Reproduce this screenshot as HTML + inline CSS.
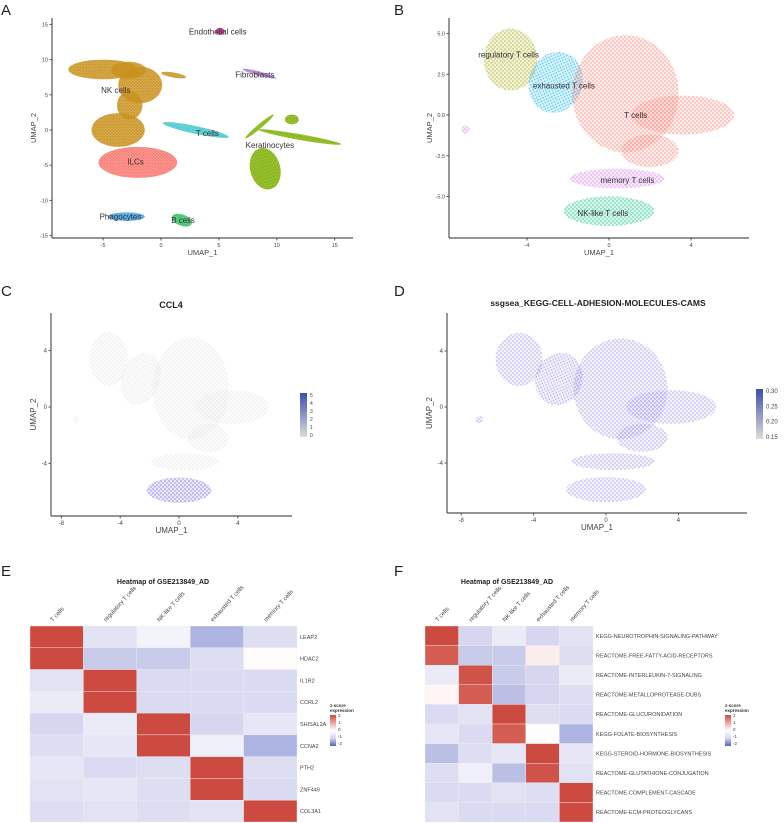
<!DOCTYPE html>
<html><head><meta charset="utf-8"><style>
html,body{margin:0;padding:0;background:#fff}
svg{display:block;font-family:"Liberation Sans",sans-serif}
</style></head><body>
<svg id="fig" width="784" height="823" viewBox="0 0 784 823">
<defs id="defs"></defs>
<g id="root"></g>
</svg>
<script>
// ---- Panel A data (UMAP units) ----
const aClusters = ["NK cells","NK cells","NK cells","NK cells","NK cells","NK cells","ILCs","T cells","Keratinocytes","Keratinocytes","Keratinocytes","Keratinocytes","Endothelial cells","Fibroblasts","Phagocytes","B cells"];
const aCx = [-5,-1.8,-3.7,-2.7,1.1,-2.8,-2,3,9,12,11.3,8.5,5.1,8.5,-3,1.8];
const aCy = [8.6,6.4,0,3.5,7.8,8.5,-4.6,0,-5.5,-1,1.5,0.5,14,8,-12.3,-12.8];
const aRx = [3,1.9,2.3,1.1,1.1,1.5,3.4,2.9,1.3,3.6,0.6,1.6,0.4,1.5,1.6,0.9];
const aRy = [1.4,2.6,2.4,2,0.35,1.2,2.2,0.55,3,0.4,0.7,0.3,0.5,0.3,0.6,0.8];
const aRot = [0,0,0,0,-10,0,0,-12,15,-10,0,40,0,-15,0,-20];
const aColors = ["#c8901a","#c8901a","#c8901a","#c8901a","#c8901a","#c8901a","#f8766d","#3fc6cc","#7cae00","#7cae00","#7cae00","#7cae00","#c21b7c","#b47ad8","#3f9ee0","#2fbf62"];
const aLabels = ["Endothelial cells","Fibroblasts","NK cells","T cells","Keratinocytes","ILCs","Phagocytes","B cells"];
const aLabX = [4.9,8.1,-3.9,4,9.4,-2.2,-3.5,1.9];
const aLabY = [14,7.9,5.7,-0.4,-2.1,-4.5,-12.3,-12.8];
const aXTicks = [-5,0,5,10,15];
const aYTicks = [15,10,5,0,-5,-10,-15];
// ---- Panel B/C/D data ----
const bClusters = ["regulatory","exhausted","T","T","T","memory","NK-like","other"];
const bCx = [-4.8,-2.6,0.8,3.6,2,0.4,0,-7];
const bCy = [3.4,2,1.3,0,-2.2,-3.9,-5.9,-0.9];
const bRx = [1.3,1.3,2.6,2.5,1.4,2.3,2.2,0.2];
const bRy = [1.9,1.9,3.6,1.2,1,0.6,0.9,0.25];
const bRot = [0,-20,0,0,0,0,0,0];
const bColors = ["#a3a500","#00b0f6","#f8766d","#f8766d","#f8766d","#d56ff0","#00bf7d","#e76bf3"];
const bLabels = ["regulatory T cells","exhausted T cells","T cells","memory T cells","NK-like T cells"];
const bLabX = [-4.9,-2.2,1.3,0.9,-0.3];
const bLabY = [3.7,1.8,0,-4,-6];
const bXTicks = [-4,0,4];
const bYTicks = [5,2.5,0,-2.5,-5];
const cdXTicks = [-8,-4,0,4];
const cdYTicks = [4,0,-4];
const cExpr = [0,0,0,0,0,0,1,0];   // CCL4 high only in NK-like
const ccl4Ticks = [5,4,3,2,1,0];
const camsTicks = ["0.30","0.25","0.20","0.15"];
// ---- Heatmap data ----
const hmCols = ["T cells","regulatory T cells","NK-like T cells","exhausted T cells","memory T cells"];
const eRows = ["LEAP2","HDAC2","IL1R2","CCRL2","SHISAL2A","CCNA2","PTH2","ZNF449","COL3A1"];
const eVals = [
 [2,-0.7,-0.3,-1.3,-0.8],[2,-1.1,-1.1,-0.8,0.05],[-0.7,2,-0.9,-0.9,-0.9],[-0.5,2,-0.9,-0.9,-0.9],
 [-1,-0.5,2,-1,-0.6],[-0.8,-0.6,2,-0.4,-1.3],[-0.6,-0.9,-0.8,2,-0.8],[-0.7,-0.6,-0.8,2,-0.9],[-0.8,-0.7,-0.8,-0.7,2]];
const fRows = ["KEGG-NEUROTROPHIN-SIGNALING-PATHWAY","REACTOME-FREE-FATTY-ACID-RECEPTORS","REACTOME-INTERLEUKIN-7-SIGNALING","REACTOME-METALLOPROTEASE-DUBS","REACTOME-GLUCURONIDATION","KEGG-FOLATE-BIOSYNTHESIS","KEGG-STEROID-HORMONE-BIOSYNTHESIS","REACTOME-GLUTATHIONE-CONJUGATION","REACTOME-COMPLEMENT-CASCADE","REACTOME-ECM-PROTEOGLYCANS"];
const fVals = [
 [2,-1,-0.5,-1,-0.7],[1.8,-1.1,-1.1,0.2,-0.8],[-0.5,1.9,-1.1,-1,-0.5],[0.1,1.8,-1.2,-1,-0.8],[-0.9,-0.7,2,-0.8,-0.9],
 [-0.6,-0.9,1.8,-0.05,-1.3],[-1.2,-0.8,-0.6,2,-0.6],[-0.8,-0.4,-1.2,1.9,-0.7],[-0.9,-0.9,-0.7,-0.8,2],[-0.7,-0.9,-0.9,-0.9,2]];
const zTicks = [2,1,0,-1,-2];

const NS="http://www.w3.org/2000/svg";
const root=document.getElementById('root'), defs=document.getElementById('defs');
function el(tag,attrs,parent){const e=document.createElementNS(NS,tag);for(const k in attrs)e.setAttribute(k,attrs[k]);(parent||root).appendChild(e);return e;}
function txt(s,attrs,parent){const e=el('text',attrs,parent);e.textContent=s;return e;}
let patN=0;
function dotPattern(color,op,dense,bg){
  const id='p'+(patN++);const p=el('pattern',{id:id,width:dense?3:4,height:dense?3:4,patternUnits:'userSpaceOnUse'},defs);
  el('rect',{width:4,height:4,fill:color,opacity:op*(bg==null?0.35:bg)},p);
  el('circle',{cx:1,cy:1,r:0.8,fill:color,opacity:op},p);
  el('circle',{cx:dense?2.4:3,cy:dense?2.2:3,r:0.7,fill:color,opacity:op},p);
  return 'url(#'+id+')';
}
function letter(s,x,y){const t=txt(s,{x:x,y:y,'font-size':15,fill:'#222'});}
function axes(g,P,xt,yt,xlab,ylab,fmt){
  const xl=el('line',{x1:P.ax,y1:P.ay,x2:P.axEnd,y2:P.ay,stroke:'#555','stroke-width':1.2},g);
  
  const yl=el('line',{x1:P.ax,y1:P.ay,x2:P.ax,y2:P.ayTop,stroke:'#555','stroke-width':1.2},g);
  
  xt.forEach(v=>{const x=P.sx(v);el('line',{x1:x,y1:P.ay,x2:x,y2:P.ay+2.5,stroke:'#555'},g);
    const t=txt(String(v),{x:x,y:P.ay+9,'font-size':P.fs,'text-anchor':'middle',fill:'#444'},g);
    });
  yt.forEach(v=>{const y=P.sy(v);el('line',{x1:P.ax-2.5,y1:y,x2:P.ax,y2:y,stroke:'#555'},g);
    const t=txt(fmt?fmt(v):String(v),{x:P.ax-4,y:y+2,'font-size':P.fs,'text-anchor':'end',fill:'#444'},g);
    });
  const xt2=txt(xlab,{x:(P.ax+P.axEnd)/2,y:P.ay+17,'font-size':P.fs+2,'text-anchor':'middle',fill:'#444'},g);
  
  const yy=(P.ay+P.ayTop)/2;
  const yt2=txt(ylab,{x:P.ytx,y:yy,'font-size':P.fs+2,'text-anchor':'middle',fill:'#444',transform:'rotate(-90 '+P.ytx+' '+yy+')'},g);
  
}
function blobs(g,P,cx,cy,rx,ry,rot,fills,names){
  for(let i=0;i<cx.length;i++){
    const x=P.sx(cx[i]),y=P.sy(cy[i]);
    const e=el('ellipse',{cx:x,cy:y,rx:rx[i]*P.kx,ry:ry[i]*P.ky,fill:fills[i],transform:'rotate('+(-rot[i])+' '+x+' '+y+')'},g);
    
    
  }
}
function mk(x0,kx,y0,ky,o){return Object.assign({kx:kx,ky:ky,sx:v=>x0+v*kx,sy:v=>y0-v*ky},o);}

// Panel A
letter('A',1,15);
const gA=el('g',{});
const PA=mk(161,11.58,130,7.04,{ax:52,ay:238,axEnd:353,ayTop:18,fs:5.5,ytx:36});
blobs(gA,PA,aCx,aCy,aRx,aRy,aRot,aColors.map(c=>dotPattern(c,1,true,0.75)),aClusters);
aLabels.forEach((s,i)=>{const t=txt(s,{x:PA.sx(aLabX[i]),y:PA.sy(aLabY[i])+3,'font-size':8,'text-anchor':'middle',fill:'#333'},gA);
  });
axes(gA,PA,aXTicks,aYTicks,'UMAP_1','UMAP_2');

// Panel B
letter('B',394,15);
const gB=el('g',{});
const PB=mk(609,20.5,115,16.3,{ax:449,ay:238,axEnd:749,ayTop:18,fs:5.5,ytx:432});
blobs(gB,PB,bCx,bCy,bRx,bRy,bRot,bColors.map(c=>dotPattern(c,0.7,false,0.2)),bClusters);
bLabels.forEach((s,i)=>{const t=txt(s,{x:PB.sx(bLabX[i]),y:PB.sy(bLabY[i])+3,'font-size':8,'text-anchor':'middle',fill:'#333'},gB);
  });
axes(gB,PB,bXTicks,bYTicks,'UMAP_1','UMAP_2',v=>v.toFixed(1));

// Panel C
letter('C',1,296);
const gC=el('g',{});
const PC=mk(179,14.7,407,14.1,{ax:51,ay:516,axEnd:292,ayTop:313,fs:6,ytx:36});
const grayP=dotPattern('#d8d8d8',0.55,false,0.15),purpP=dotPattern('#7d6bd8',0.8,false,0.2);
blobs(gC,PC,bCx,bCy,bRx,bRy,bRot,cExpr.map(v=>v?purpP:grayP),bClusters);
const tc=txt('CCL4',{x:171,y:308,'font-size':9,'font-weight':'bold','text-anchor':'middle',fill:'#222'},gC);

axes(gC,PC,cdXTicks,cdYTicks,'UMAP_1','UMAP_2');
function colorbar(g,x,y,w,h,c1,labels,fs){
  const id='cb'+(patN++);const lg=el('linearGradient',{id:id,x1:0,y1:0,x2:0,y2:1},defs);
  el('stop',{offset:'0','stop-color':c1},lg);el('stop',{offset:'1','stop-color':'#dcdcdc'},lg);
  const r=el('rect',{x:x,y:y,width:w,height:h,fill:'url(#'+id+')'},g);
  
  labels.forEach((s,i)=>{const t=txt(String(s),{x:x+w+3,y:y+3+i*(h-4)/(labels.length-1)+1,'font-size':fs,fill:'#444'},g);
    });
}
colorbar(gC,300,393,7,44,'#3e4fb0',ccl4Ticks,5);

// Panel D
letter('D',394,296);
const gD=el('g',{});
const PD=mk(606,18.1,407,14.0,{ax:447,ay:513,axEnd:747,ayTop:313,fs:6,ytx:432});
const lavP=dotPattern('#9c8ae6',0.7,false,0.15);
blobs(gD,PD,bCx,bCy,bRx,bRy,bRot,bCx.map(()=>lavP),bClusters);
const td=txt('ssgsea_KEGG-CELL-ADHESION-MOLECULES-CAMS',{x:598,y:306,'font-size':8.5,'font-weight':'bold','text-anchor':'middle',fill:'#222'},gD);

axes(gD,PD,cdXTicks,cdYTicks,'UMAP_1','UMAP_2');
colorbar(gD,756,389,7,50,'#3e4fb0',camsTicks,6);

// Heatmaps
function hcol(v){
  const lerp=(a,b,t)=>a.map((x,i)=>Math.round(x+(b[i]-x)*t));
  let c;
  if(v>=0){c=v<=1?lerp([255,255,255],[236,166,158],v):lerp([236,166,158],[205,74,64],Math.min(1,v-1));}
  else{const a=-v;c=a<=1?lerp([255,255,255],[214,214,240],a):lerp([214,214,240],[80,100,190],Math.min(1,(a-1)));}
  return 'rgb('+c.join(',')+')';
}
function heatmap(g,x0,x1,y0,y1,rows,vals,title,tx,lgx){
  const cw=(x1-x0)/hmCols.length,rh=(y1-y0)/rows.length;
  const t=txt(title,{x:tx,y:584,'font-size':7,'font-weight':'bold','text-anchor':'middle',fill:'#222'},g);
  
  hmCols.forEach((c,j)=>{const cx=x0+cw*(j+0.5)-4;
    const l=txt(c,{x:cx,y:622,'font-size':6,fill:'#444',transform:'rotate(-48 '+cx+' 622)'},g);
    });
  rows.forEach((r,i)=>{
    vals[i].forEach((v,j)=>{const c=el('rect',{x:x0+j*cw,y:y0+i*rh,width:cw,height:rh,fill:hcol(v),stroke:'#eeeeee','stroke-width':0.4},g);
      });
    const l=txt(r,{x:x1+3,y:y0+(i+0.5)*rh+2,'font-size':5.5,fill:'#444'},g);
    
  });
  const lt=txt('z-score',{x:lgx,y:707,'font-size':4.5,'font-weight':'bold',fill:'#333'},g);
  
  txt('expression',{x:lgx,y:712,'font-size':4.5,'font-weight':'bold',fill:'#333'},g);
  const id='hg'+(patN++);const lg=el('linearGradient',{id:id,x1:0,y1:0,x2:0,y2:1},defs);
  [2,1,0,-1,-2].forEach((v,i)=>el('stop',{offset:i/4,'stop-color':hcol(v)},lg));
  const r=el('rect',{x:lgx,y:715,width:6,height:31,fill:'url(#'+id+')'},g);
  
  zTicks.forEach((v,i)=>{const tl=txt(String(v),{x:lgx+8,y:717+i*7,'font-size':4.5,fill:'#444'},g);
    });
}
letter('E',1,576);
const gE=el('g',{});
heatmap(gE,30,297,626,822,eRows,eVals,'Heatmap of GSE213849_AD',163,330);
letter('F',394,576);
const gF=el('g',{});
heatmap(gF,425,593,626,822,fRows,fVals,'Heatmap of GSE213849_AD',507,725);
</script>
</body></html>
